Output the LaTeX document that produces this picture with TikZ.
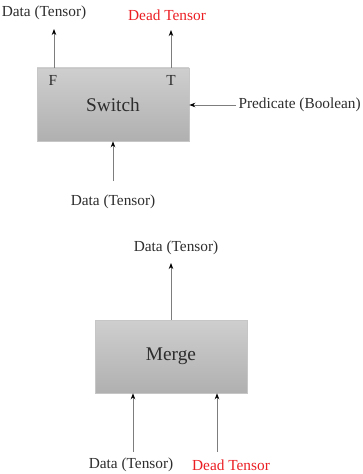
\documentclass[tikz,border=0pt]{standalone}
\usepackage{fontspec}
\setmainfont{Liberation Serif}
\usetikzlibrary{arrows.meta, positioning}
\definecolor{deadred}{RGB}{235,30,35}
\definecolor{txtgray}{RGB}{45,45,45}
\definecolor{linegray}{RGB}{125,125,125}

\begin{document}
\begin{tikzpicture}[x=0.75pt, y=-0.75pt, >={Stealth[length=1.6mm, width=1.2mm, color=black]},
    opbox/.style={draw=gray!45, top color=gray!38, bottom color=gray!62, minimum width=114pt, minimum height=54.75pt, inner sep=0pt, text=txtgray, font=\fontsize{14.5}{17}\selectfont},
    lbl/.style={inner sep=0pt, text=txtgray, font=\fontsize{11.5}{14}\selectfont},
    flow/.style={->, draw=linegray, line width=0.7pt}]
    \useasboundingbox (0,0) rectangle (362,474);

    % Switch
    \node[opbox] (switch) at (113,104.5) {Switch};
    \node[lbl] (flab) at (53,80) {F};
    \node[lbl] (tlab) at (171,80) {T};
    \node[lbl] (fdata) at (44,13) {Data (Tensor)};
    \node[lbl, text=deadred] (tdead) at (167,15) {Dead Tensor};
    \node[lbl, anchor=east] (pred) at (361,105) {Predicate (Boolean)};
    \node[lbl] (sdata) at (113,202) {Data (Tensor)};
    \coordinate (fout) at (54,29);
    \coordinate (tout) at (171,30);
    \coordinate (predin) at (236,105);
    \coordinate (sin) at (113,181);
    \draw[flow] (switch.north -| fout) -- (fout);
    \draw[flow] (switch.north -| tout) -- (tout);
    \draw[flow] (predin) -- (predin -| switch.east);
    \draw[flow] (sin) -- (switch.south);

    % Merge
    \node[opbox] (merge) at (171,356.5) {Merge};
    \node[lbl] (mout) at (176,248) {Data (Tensor)};
    \node[lbl] (mdata) at (131,465) {Data (Tensor)};
    \node[lbl, text=deadred] (mdead) at (231,465) {Dead Tensor};
    \coordinate (mtop) at (171,263);
    \coordinate (min1) at (133,452);
    \coordinate (min2) at (217,452);
    \draw[flow] (merge.north) -- (mtop);
    \draw[flow] (min1) -- (merge.south -| min1);
    \draw[flow] (min2) -- (merge.south -| min2);
\end{tikzpicture}
\end{document}
